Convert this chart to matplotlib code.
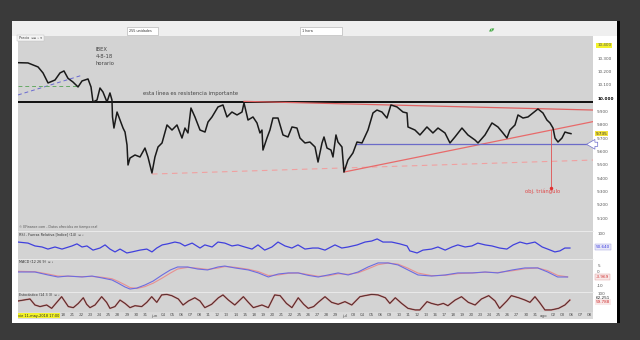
"""IBEX 35 hourly screenshot (4-8-18): price with trend lines, RSI, MACD, stochastic."""
import matplotlib
matplotlib.use("Agg")
import matplotlib.pyplot as plt  # noqa: E402
from matplotlib.patches import Rectangle  # noqa: E402

W, H = 640, 340

# x axis: trading days counted from vie 11-may-2018
price_day = [0.00, 1.10, 2.21, 2.76, 3.31, 4.08, 4.63, 5.07, 5.51, 6.06,
             6.62, 7.06, 7.72, 8.05, 8.27, 8.71, 9.04, 9.37, 9.81, 10.14,
             10.36, 10.42, 10.58, 10.92, 11.25, 11.58, 11.80, 12.02, 12.13, 12.35,
             12.90, 13.45, 14.00, 14.33, 14.77, 15.10, 15.44, 15.88, 16.43, 16.98,
             17.53, 18.08, 18.41, 18.74, 19.07, 19.51, 20.07, 20.62, 20.95, 21.39,
             22.05, 22.60, 23.04, 23.59, 24.15, 24.70, 24.92, 25.36, 25.91, 26.35,
             26.68, 26.90, 27.01, 27.45, 27.78, 28.11, 28.67, 29.22, 29.77, 30.21,
             30.76, 31.09, 31.64, 32.19, 32.75, 33.08, 33.52, 33.74, 34.07, 34.51,
             34.73, 35.06, 35.28, 35.72, 35.94, 36.38, 36.93, 37.38, 37.93, 38.59,
             39.14, 39.58, 40.13, 40.68, 41.12, 41.79, 42.45, 42.89, 43.00, 43.77,
             44.32, 45.09, 45.75, 46.31, 47.08, 47.63, 48.18, 48.95, 49.61, 50.39,
             50.72, 51.49, 52.26, 52.92, 53.47, 53.91, 54.24, 54.80, 55.13, 55.68,
             56.23, 56.78, 57.33, 57.88, 58.32, 58.66, 58.99, 59.21, 59.54, 59.98,
             60.31, 60.64, 60.97]
price_val = [10267, 10265, 10235, 10190, 10115, 10137, 10190, 10205, 10150, 10122,
             10085, 10130, 10145, 10085, 9972, 9987, 10077, 10047, 9972, 10040,
             9987, 9860, 9777, 9897, 9837, 9777, 9747, 9650, 9500, 9552,
             9575, 9560, 9627, 9560, 9440, 9560, 9635, 9665, 9800, 9762,
             9800, 9702, 9777, 9740, 9927, 9860, 9762, 9747, 9822, 9860,
             9935, 9950, 9860, 9897, 9875, 9897, 9965, 9837, 9860, 9815,
             9740, 9762, 9612, 9702, 9762, 9852, 9852, 9725, 9710, 9785,
             9777, 9702, 9665, 9672, 9635, 9522, 9665, 9710, 9627, 9612,
             9560, 9725, 9672, 9635, 9447, 9537, 9590, 9672, 9665, 9762,
             9890, 9912, 9897, 9852, 9950, 9935, 9897, 9890, 9785, 9762,
             9725, 9785, 9740, 9777, 9740, 9665, 9710, 9777, 9725, 9687,
             9665, 9725, 9815, 9785, 9740, 9702, 9762, 9800, 9875, 9852,
             9860, 9890, 9920, 9890, 9837, 9815, 9777, 9702, 9672, 9702,
             9747, 9740, 9735]
last_price = 9735

# drawn lines (day, level)
resistance = 9970
old_channel = [(0.0, 10025), (7.17, 10175)]
old_support = [(0.0, 10092), (6.62, 10092)]
tri_top = [(24.92, 9977), (63.4, 9912)]
tri_bottom = [(35.94, 9447), (63.4, 9825)]
neckline = [(37.38, 9655), (63.4, 9655)]
low_dashed = [(14.77, 9432), (63.4, 9537)]
target = [(58.77, 9761), (58.77, 9327)]

price_ticks = [10400, 10300, 10200, 10100, 10000, 9900, 9800, 9700,
               9600, 9500, 9400, 9300, 9200, 9100]

rsi_day = [0, 1.1, 1.87, 2.65, 3.3, 4.08, 4.85, 5.95, 6.5, 7.06,
           7.6, 8.27, 9.04, 9.6, 10.14, 10.7, 11.25, 12.0, 12.57, 13.45,
           14.2, 14.77, 15.3, 15.9, 16.5, 17.3, 17.86, 18.4, 19.2, 20.07,
           20.6, 21.4, 22.05, 22.8, 23.6, 24.25, 25.0, 25.8, 26.46, 27.2,
           28.0, 28.67, 29.44, 30.2, 30.87, 31.64, 32.5,
           33.1, 33.85, 34.95, 35.7, 36.4, 37.4, 38.26, 39.0, 39.6, 40.24,
           41.2, 42.1, 42.9, 43.2, 44.0, 44.65, 45.6, 46.3, 47.1, 47.85,
           48.5, 49.3, 50.05, 50.7, 51.5, 52.26, 53.1, 53.9, 54.6, 55.35,
           56.1, 57.0, 57.8, 58.4, 59.2, 59.75, 60.3, 60.86]
rsi_val = [69, 65, 54, 50, 42, 50, 42, 54, 62, 50,
           54, 38, 46, 58, 42, 31, 42, 27, 31, 38,
           42, 31, 46, 58, 62, 69, 65, 54, 65, 46,
           58, 50, 69, 65, 54, 58, 50, 42, 58, 38,
           50, 69, 54, 46, 58, 42, 46,
           46, 38, 58, 46, 50, 58, 69, 73, 81, 69,
           69, 62, 54, 35, 27, 38, 42, 50, 38, 50,
           58, 50, 54, 65, 58, 54, 46, 42, 58, 69,
           62, 69, 50, 42, 31, 35, 46, 46]

macd_day = [0, 1.87, 3.3, 4.4, 5.5, 7.06, 8.16, 9.26, 10.36, 11.0,
            11.8, 12.35, 13.1, 14.0, 14.9, 15.9, 16.8, 17.6, 18.7, 19.8,
            20.9, 22.05, 22.8, 23.9, 25.4, 26.5, 27.6, 28.7, 29.8, 30.9,
            32.0, 33.1, 34.2, 35.3, 36.4, 37.5, 38.6, 39.7, 40.8, 41.9,
            43.0, 44.1, 45.6, 47.1, 48.5, 50.1, 51.5, 52.9, 54.5, 55.9,
            57.3, 58.4, 59.5, 60.6]
macd_val = [0, 0, -2.2, -3.7, -3.0, -3.7, -3.0, -4.4, -5.9, -8.1,
            -11.1, -12.6, -11.9, -9.6, -6.7, -2.2, 1.5, 3.7, 3.7, 2.2,
            1.5, 3.7, 4.4, 3.0, 1.5, -0.7, -3.7, -1.5, -0.7, -0.7,
            -2.5, -3.7, -2.2, -0.7, -2.2, 0, 3.7, 6.7, 6.7, 5.2,
            1.5, -2.2, -3.0, -2.2, -0.7, -0.7, 0, -0.7, 1.5, 3.0,
            3.0, 0, -3.7, -3.7]
macd_sig = [0.5, 0.2, -1.5, -3.0, -3.2, -3.4, -3.3, -3.9, -5.0, -6.8,
            -9.5, -11.5, -12.2, -10.8, -8.3, -4.5, -0.8, 2.2, 3.4, 2.8,
            1.9, 2.9, 4.0, 3.5, 2.0, 0.3, -2.6, -2.2, -1.0, -0.7,
            -1.9, -3.2, -2.8, -1.3, -1.7, -0.6, 2.3, 5.4, 6.6, 5.8,
            2.8, -0.8, -2.7, -2.5, -1.2, -0.7, -0.2, -0.4, 0.9, 2.4,
            3.0, 1.0, -2.5, -3.6]

sto_day = [0.04, 1.32, 1.87, 2.43, 3.16, 3.71, 4.81, 5.55, 6.10, 6.65,
           7.20, 7.57, 7.94, 8.49, 9.22, 9.77, 10.14, 10.69, 11.25, 11.80,
           12.35, 12.90, 13.64, 14.20, 14.74, 15.30, 15.84, 16.40, 16.95, 17.68,
           18.20, 18.80, 19.50, 20.06, 20.60, 21.35, 22.10, 22.60, 23.20, 23.90,
           24.85, 25.40, 25.95, 26.90, 27.60, 28.30, 28.90, 29.60, 30.20, 30.90,
           31.50, 32.00, 32.60, 33.10, 33.85, 34.58, 35.30, 36.05, 36.80, 37.70,
           38.26, 39.00, 39.70, 40.50, 41.00, 41.60, 42.30, 43.00, 43.80, 44.30,
           45.10, 45.60, 46.30, 46.90, 47.40, 48.20, 48.90, 49.65, 50.40, 51.10,
           51.90, 52.60, 53.10, 53.90, 54.40, 55.20, 55.90, 56.45, 57.00, 57.50,
           58.10, 58.80, 59.60, 60.30, 60.85]
sto_val = [57, 68, 34, 25, 34, 15, 81, 25, 19, 43,
           75, 38, 19, 34, 81, 49, 15, 25, 62, 43,
           19, 30, 25, 49, 81, 49, 91, 94, 87, 68,
           34, 57, 75, 57, 19, 38, 75, 91, 62, 34,
           81, 49, 19, 34, 19, 91, 87, 43, 19, 75,
           38, 15, 25, 49, 81, 49, 38, 53, 34, 81,
           87, 94, 91, 75, 43, 75, 43, 15, 6, 6,
           53, 43, 34, 43, 30, 62, 81, 49, 34, 68,
           87, 57, 15, 57, 87, 75, 62, 49, 81, 49,
           6, 6, 15, 34, 62]

date_days = list(range(5, 64))
date_labels = ["18", "21", "22", "23", "24", "25", "28", "29", "30", "31",
               "jun", "04", "05", "06", "07", "08", "11", "12", "13", "14",
               "15", "18", "19", "20", "21", "22", "25", "26", "27", "28",
               "29", "jul", "03", "04", "05", "06", "09", "10", "11", "12",
               "13", "16", "17", "18", "19", "20", "23", "24", "25", "26",
               "27", "30", "31", "ago", "02", "03", "06", "07", "08"]

XMAX = 63.4
GRAY = "#d3d3d3"
TXT = "#555555"
FS = 3.0


def frac(x0, y0, x1, y1):
    return [x0 / W, 1 - y1 / H, (x1 - x0) / W, (y1 - y0) / H]


def fig_rect(fig, x0, y0, x1, y1, **kw):
    kw.setdefault("zorder", -5)
    fig.patches.append(Rectangle((x0 / W, 1 - y1 / H), (x1 - x0) / W, (y1 - y0) / H,
                                 transform=fig.transFigure, **kw))


def panel(fig, y0, y1, ylim):
    ax = fig.add_axes(frac(18, y0, 593, y1), facecolor=GRAY)
    ax.set_xlim(0, XMAX); ax.set_ylim(*ylim)
    ax.set_xticks([])
    for s in ("left", "bottom", "right"):
        ax.spines[s].set_visible(False)
    ax.spines["top"].set_color("#eeeeee"); ax.spines["top"].set_linewidth(0.6)
    ax.yaxis.tick_right()
    ax.tick_params(axis="y", length=0, pad=3, labelsize=FS, labelcolor=TXT)
    return ax


def seg(ax, pts, **kw):
    ax.plot([p[0] for p in pts], [p[1] for p in pts], **kw)


fig = plt.figure(figsize=(6.4, 3.4), dpi=100, facecolor="#3a3a3a")
fig_rect(fig, 12, 21, 617, 323, facecolor="white", edgecolor="none", zorder=-10)
fig_rect(fig, 617, 21, 620, 323, facecolor="black", edgecolor="none", zorder=-10)
fig_rect(fig, 12, 21, 617, 36, facecolor="#efefef", edgecolor="none", zorder=-9)
fig_rect(fig, 127, 27, 158, 35, facecolor="white", edgecolor="#aaaaaa", lw=0.4, zorder=-8)
fig_rect(fig, 300, 27, 342, 35, facecolor="white", edgecolor="#aaaaaa", lw=0.4, zorder=-8)
fig.text(129 / W, 1 - 31 / H, "255 unidades", fontsize=2.4, color="#333", va="center")
fig.text(302 / W, 1 - 31 / H, "1 hora", fontsize=2.4, color="#333", va="center")
fig.text(489 / W, 1 - 31 / H, "▲▼", fontsize=3, color="#44aa44", va="center")

# ---- price panel
ax = panel(fig, 36, 231, (9005, 10467))
ax.spines["top"].set_visible(False)
ax.plot(price_day, price_val, color="#1a1a1a", lw=1.1, zorder=4)
ax.axhline(resistance, color="black", lw=1.3, zorder=3)
seg(ax, old_channel, color="#6a6ad0", lw=0.7, ls=(0, (4, 3)))
seg(ax, old_support, color="#66aa66", lw=0.7, ls=(0, (4, 3)))
seg(ax, tri_top, color="#e06262", lw=0.9, zorder=3)
seg(ax, tri_bottom, color="#e86a6a", lw=0.9, zorder=3)
seg(ax, neckline, color="#6b6bc8", lw=0.9, zorder=3)
seg(ax, low_dashed, color="#f0a0a0", lw=0.8, ls=(0, (5, 4)), zorder=2)
seg(ax, target, color="#e05050", lw=0.6, zorder=3)
ax.plot(target[1][0], target[1][1], "o", color="#e03030", ms=1.5, zorder=4)

ax.set_yticks(price_ticks)
ax.set_yticklabels([f"{v / 1000:.3f}" for v in price_ticks])
labels = ax.get_yticklabels()
labels[0].set_bbox(dict(facecolor="#f2f22a", edgecolor="none", pad=0.6))
labels[4].set_color("black"); labels[4].set_fontweight("bold")
ax.text(1.005, last_price, f"{last_price / 1000:.3f}", transform=ax.get_yaxis_transform(),
        fontsize=FS, va="center", ha="left", color="#333",
        bbox=dict(facecolor="#f2e23a", edgecolor="none", pad=0.6))
ax.annotate("", xy=(0.984, neckline[0][1]), xytext=(1.013, neckline[0][1]),
            xycoords=ax.get_yaxis_transform(), textcoords=ax.get_yaxis_transform(),
            arrowprops=dict(arrowstyle="simple,head_width=0.7,head_length=0.6,tail_width=0.3",
                            fc="white", ec="#7070cc", lw=0.5), annotation_clip=False)

ax.text(8.6, 10385, "IBEX\n4-8-18\nhorario", fontsize=3.8, color="#444",
        va="top", linespacing=1.45)
ax.text(13.8, 10035, "esta línea es resistencia importante", fontsize=3.8, color="#444",
        va="center")
ax.text(55.9, 9300, "obj. triángulo", fontsize=3.8, color="#e04848", va="center")
ax.text(0.0, 1.0, " Precio  ▫▫ ◦ ▾ ", transform=ax.transAxes, fontsize=2.4, color="#333",
        va="top", ha="left", bbox=dict(facecolor="#f4f4f4", edgecolor="#bbbbbb", lw=0.3, pad=0.4))
ax.text(0.002, 0.008, "© EFinance.com - Datos ofrecidos en tiempo real", transform=ax.transAxes,
        fontsize=2.3, color="#555", va="bottom")

# ---- RSI
ax_r = panel(fig, 231, 259, (3.8, 111.5))
ax_r.plot(rsi_day, rsi_val, color="#4040dd", lw=0.9)
ax_r.set_yticks([100]); ax_r.set_yticklabels(["100"])
ax_r.text(1.005, 50, "50.640", transform=ax_r.get_yaxis_transform(), fontsize=FS,
          va="center", color="#3a3ae0", bbox=dict(facecolor="#e8e8f8", edgecolor="#9999dd",
                                                 lw=0.3, pad=0.5))
ax_r.text(0.002, 0.96, "RSI - Fuerza Relativa [Indice] (14)  ▫ ◦", transform=ax_r.transAxes,
          fontsize=2.4, color="#333", va="top")

# ---- MACD
ax_m = panel(fig, 259, 292, (-14.8, 9.6))
ax_m.plot(macd_day, macd_sig, color="#e89090", lw=0.8)
ax_m.plot(macd_day, macd_val, color="#6c6ce0", lw=0.8)
ax_m.set_yticks([5, 0, -10]); ax_m.set_yticklabels(["5", "0", "-10"])
ax_m.text(1.005, -3.7, "-3.969", transform=ax_m.get_yaxis_transform(), fontsize=FS,
          va="center", color="#d03030", bbox=dict(facecolor="#f8e8e8", edgecolor="#dd9999",
                                                 lw=0.3, pad=0.5))
ax_m.text(0.002, 0.96, "MACD (12 26 9)  ▫ ◦", transform=ax_m.transAxes,
          fontsize=2.4, color="#333", va="top")

# ---- Stochastic
ax_s = panel(fig, 292, 312, (-5.7, 107.6))
ax_s.plot(sto_day, sto_val, color="#c87070", lw=1.2)
ax_s.plot(sto_day, sto_val, color="#3a2424", lw=0.55)
ax_s.set_yticks([100]); ax_s.set_yticklabels(["100"])
ax_s.text(1.005, 74, "62.251", transform=ax_s.get_yaxis_transform(), fontsize=FS,
          va="center", color="#222")
ax_s.text(1.005, 51, "59.788", transform=ax_s.get_yaxis_transform(), fontsize=FS,
          va="center", color="#d03030", bbox=dict(facecolor="#f8e8e8", edgecolor="none", pad=0.4))
ax_s.text(0.002, 0.96, "Estocástico (14 3 3)  ▫ ◦", transform=ax_s.transAxes,
          fontsize=2.4, color="#333", va="top")

# ---- date row
ax_d = fig.add_axes(frac(18, 312, 593, 319), facecolor="#dadada")
ax_d.set_xlim(0, XMAX); ax_d.set_ylim(0, 1)
ax_d.set_xticks([]); ax_d.set_yticks([])
for s in ax_d.spines.values():
    s.set_visible(False)
for d, lab in zip(date_days, date_labels):
    ax_d.text(d, 0.5, lab, fontsize=FS, color=TXT, ha="center", va="center")
ax_d.text(0.05, 0.5, "vie 11-may-2018 17:00", fontsize=2.5, color="#222", ha="left", va="center",
          bbox=dict(facecolor="#f2f22a", edgecolor="none", pad=0.4))

fig.savefig("out.png", dpi=100, facecolor=fig.get_facecolor())
plt.close(fig)
